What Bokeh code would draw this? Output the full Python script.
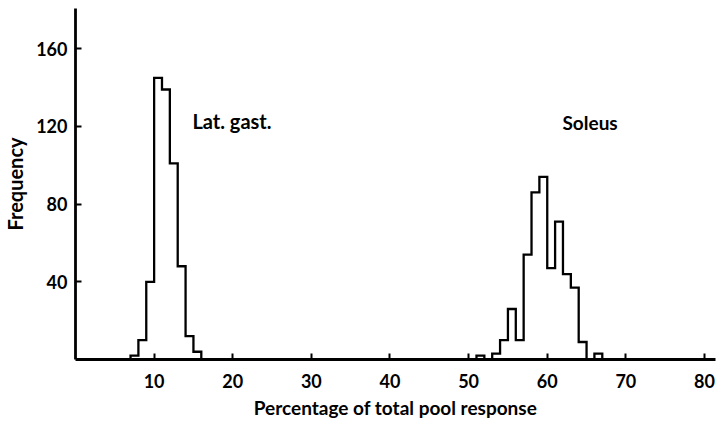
import numpy as np
from bokeh.plotting import figure
from bokeh.models import FixedTicker, Label, Range1d
from bokeh.embed import file_html
from bokeh.resources import INLINE

# Histogram data (bin width 1 %)
lat_start = 7
lat_counts = [2, 10, 40, 145, 139, 101, 48, 12, 4]

sol_start = 51
sol_counts = [2, 0, 3, 10, 26, 10, 54, 86, 94, 47, 71, 44, 37, 9, 0, 3]

x_ticks = [10, 20, 30, 40, 50, 60, 70, 80]
y_ticks = [40, 80, 120, 160]

FONT = "Lato"


def outline(start, counts):
    edges = start + np.arange(len(counts) + 1)
    xs = [edges[0]]
    ys = [0]
    for i, c in enumerate(counts):
        xs += [edges[i], edges[i + 1]]
        ys += [c, c]
    xs.append(edges[-1])
    ys.append(0)
    return xs, ys


p = figure(width=723, height=423, output_backend="svg",
           toolbar_location=None,
           x_range=Range1d(0, 81.4), y_range=Range1d(0, 180.7),
           min_border_left=75, min_border_right=8, min_border_top=8,
           min_border_bottom=64)
p.outline_line_color = None
p.grid.visible = False
p.background_fill_color = "white"

for start, counts in [(lat_start, lat_counts), (sol_start, sol_counts)]:
    xs, ys = outline(start, counts)
    p.line(xs, ys, line_color="black", line_width=2.3, line_join="miter")

for ax in (p.xaxis[0], p.yaxis[0]):
    ax.axis_line_width = 2.8
    ax.axis_line_color = "black"
    ax.major_tick_in = 6
    ax.major_tick_out = 0
    ax.major_tick_line_width = 2
    ax.minor_tick_line_color = None
    ax.major_label_text_font = FONT
    ax.major_label_text_font_size = "18px"
    ax.major_label_text_font_style = "bold"
    ax.major_label_text_color = "black"
    ax.axis_label_text_font = FONT
    ax.axis_label_text_font_style = "bold"
    ax.axis_label_text_color = "black"

p.xaxis[0].ticker = FixedTicker(ticks=x_ticks)
p.yaxis[0].ticker = FixedTicker(ticks=y_ticks)
p.xaxis[0].major_label_standoff = 14
p.yaxis[0].major_label_standoff = 8

p.xaxis.axis_label = "Percentage of total pool response"
p.xaxis[0].axis_label_text_font_size = "19px"
p.xaxis[0].axis_label_standoff = 5
p.yaxis.axis_label = "Frequency"
p.yaxis[0].axis_label_text_font_size = "20px"
p.yaxis[0].axis_label_standoff = 6

p.add_layout(Label(x=19.9, y=123, text="Lat. gast.", text_font=FONT,
                   text_font_size="20px", text_font_style="bold",
                   text_color="black",
                   text_align="center", text_baseline="middle"))
p.add_layout(Label(x=65.45, y=122, text="Soleus", text_font=FONT,
                   text_font_size="19px", text_font_style="bold",
                   text_color="black",
                   text_align="center", text_baseline="middle"))

open("out.html", "w").write(file_html(p, INLINE))
